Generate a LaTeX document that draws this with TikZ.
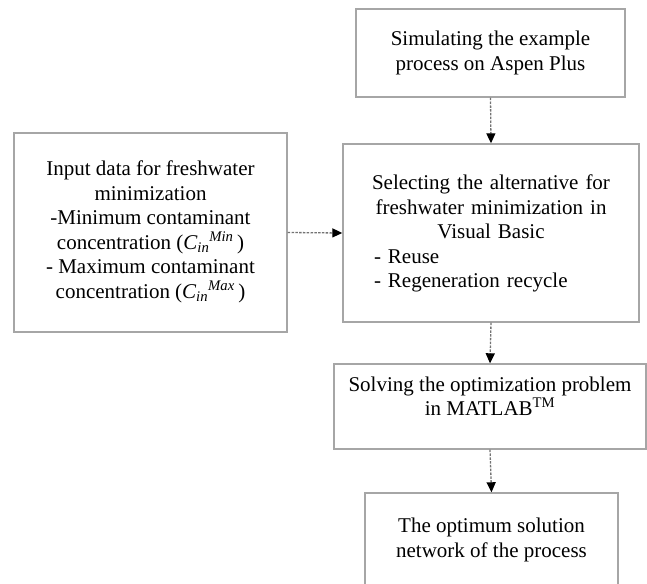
\documentclass[tikz,border=0pt]{standalone}
\usepackage{fontspec}
\setmainfont{Liberation Serif}
\usetikzlibrary{arrows.meta}
\newcommand{\ctrline}[1]{\makebox[\linewidth][c]{#1}}
\tikzset{
  boxnode/.style={draw=gray!70, line width=1.4pt, rectangle, inner sep=0pt},
  txtnode/.style={align=center, inner sep=0pt, font=\fontsize{21}{24.5}\selectfont},
  flow/.style={draw=black!55, line width=1.3pt, dash pattern=on 2.5pt off 1.3pt,
    -{Triangle[length=10pt,width=9pt,color=black,fill=black]}}
}
\begin{document}
\begin{tikzpicture}[x=1pt,y=-1pt]
\useasboundingbox (0,0) rectangle (647,583);
\clip (0,0) rectangle (647,583);
% boxes
\node[boxnode, minimum width=269pt, minimum height=88pt] (sim) at (490.5,53) {};
\node[boxnode, minimum width=273pt, minimum height=199pt] (inp) at (150.5,232.5) {};
\node[boxnode, minimum width=296pt, minimum height=178pt] (sel) at (491,233) {};
\node[boxnode, minimum width=312pt, minimum height=85pt] (sol) at (490,406.5) {};
\node[boxnode, minimum width=253pt, minimum height=120pt] (res) at (491.5,553) {};
% texts
\node[txtnode] (simtxt) at (490.5,53) {Simulating the example\\process on Aspen Plus};
\node[txtnode] (inptxt) at (150.5,232) {Input data for freshwater\\minimization\\-Minimum contaminant\\concentration ({\itshape C\textsubscript{in}\textsuperscript{Min}}\,)\\- Maximum contaminant\\concentration ({\itshape C\textsubscript{in}\textsuperscript{Max}}\,)};
\node[txtnode, text width=234pt, align=left] (seltxt) at (491,233.5) {\ctrline{Selecting the alternative for}\\\ctrline{freshwater minimization in}\\\ctrline{Visual Basic}\\- Reuse\\- Regeneration recycle};
\node[txtnode] (soltxt) at (490,396) {Solving the optimization problem\\in MATLAB\textsuperscript{TM}};
\node[txtnode] (restxt) at (491.5,540) {The optimum solution\\network of the process};
% connectors
\draw[flow] (sim.south) -- (sel.north);
\draw[flow] (inp.east) -- (sel.west);
\draw[flow] (sel.south) -- (sol.north);
\draw[flow] (sol.south) -- (res.north);
\end{tikzpicture}
\end{document}
